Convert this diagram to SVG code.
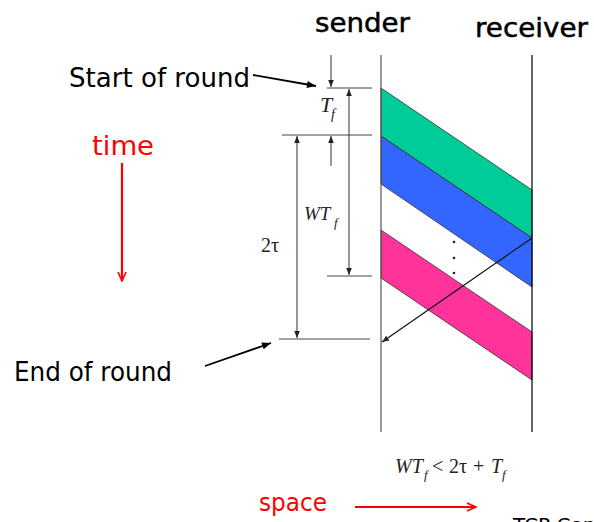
<svg xmlns="http://www.w3.org/2000/svg" width="594" height="522" viewBox="0 0 594 522">
<style>
.hand{font-family:"DejaVu Sans","Liberation Sans",sans-serif;fill:#000}
.heavy{stroke:#000;stroke-width:0.5}
.red{fill:#ff0000}
.math{font-family:"Liberation Serif","Times New Roman",serif;fill:#222}
.it{font-style:italic}
.tick{stroke:#444;stroke-width:1;fill:none}
.dim{stroke:#333;stroke-width:1;fill:none}
.band{stroke:#333;stroke-width:0.8}
</style>
<defs>
<marker id="ah" viewBox="0 0 10 10" refX="10" refY="5" markerWidth="7" markerHeight="7" markerUnits="userSpaceOnUse" orient="auto-start-reverse">
<path d="M0,1 L10,5 L0,9 z" fill="#222"/>
</marker>
<marker id="ahb" viewBox="0 0 10 10" refX="10" refY="5" markerWidth="10" markerHeight="9" markerUnits="userSpaceOnUse" orient="auto">
<path d="M0,1 L10,5 L0,9 z" fill="#000"/>
</marker>
<marker id="ahr" viewBox="0 0 10 10" refX="9" refY="5" markerWidth="10" markerHeight="10" markerUnits="userSpaceOnUse" orient="auto">
<path d="M0,1 L9,5 L0,9" fill="none" stroke="#ff0000" stroke-width="1.6"/>
</marker>
</defs>

<g id="bands">
<polygon class="band" points="381,88 532,190 532,238 381,136" fill="#00cc99"/>
<polygon class="band" points="381,136 532,238 532,287 381,184" fill="#3366ff"/>
<polygon class="band" points="381,230 532,332 532,380 381,278" fill="#ff3399"/>
</g>

<g id="sender">
<line x1="381" y1="55" x2="381" y2="432" stroke="#555" stroke-width="1.2"/>
<text class="hand heavy" x="315" y="32" font-size="26" textLength="95" lengthAdjust="spacingAndGlyphs">sender</text>
</g>
<g id="receiver">
<line x1="532" y1="55" x2="532" y2="432" stroke="#000" stroke-width="1.2"/>
<text class="hand heavy" x="475" y="37" font-size="26" textLength="113" lengthAdjust="spacingAndGlyphs">receiver</text>
</g>

<g id="dots" fill="#222">
<circle cx="454" cy="242" r="1.3"/>
<circle cx="454" cy="258" r="1.3"/>
<circle cx="454" cy="273" r="1.3"/>
</g>

<g id="ticks">
<line class="tick" x1="327" y1="88" x2="372" y2="88"/>
<line class="tick" x1="282" y1="135" x2="372" y2="135"/>
<line class="tick" x1="327" y1="276" x2="372" y2="276"/>
<line class="tick" x1="279" y1="339" x2="370" y2="339"/>
</g>

<g id="connectors">
<line class="dim" x1="331" y1="55" x2="331" y2="87" marker-end="url(#ah)"/>
<line class="dim" x1="331" y1="166" x2="331" y2="136" marker-end="url(#ah)"/>
<line class="dim" x1="349" y1="89" x2="349" y2="275" marker-start="url(#ah)" marker-end="url(#ah)"/>
<line class="dim" x1="297" y1="136" x2="297" y2="338" marker-start="url(#ah)" marker-end="url(#ah)"/>
<line x1="532" y1="238" x2="382" y2="342" stroke="#111" stroke-width="1.2" marker-end="url(#ah)"/>
<line x1="253" y1="75" x2="316" y2="86" stroke="#000" stroke-width="1.8" marker-end="url(#ahb)"/>
<line x1="205" y1="366" x2="271" y2="343" stroke="#000" stroke-width="1.8" marker-end="url(#ahb)"/>
<line x1="122" y1="163" x2="122" y2="281" stroke="#ff0000" stroke-width="2.2" marker-end="url(#ahr)"/>
<line x1="355" y1="507" x2="476" y2="507" stroke="#ff0000" stroke-width="2" marker-end="url(#ahr)"/>
</g>

<g id="labels">
<text class="hand" x="69" y="87" font-size="26" textLength="181" lengthAdjust="spacingAndGlyphs">Start of round</text>
<text class="hand" x="14" y="381" font-size="26" textLength="158" lengthAdjust="spacingAndGlyphs">End of round</text>
<text class="hand red" x="92" y="155" font-size="26" textLength="62" lengthAdjust="spacingAndGlyphs">time</text>
<text class="hand red" x="259" y="511" font-size="25" textLength="68" lengthAdjust="spacingAndGlyphs">space</text>
<text class="hand" x="513" y="532" font-size="20">TCP Cong</text>
</g>

<g id="math">
<text class="math it" x="320" y="112" font-size="22">T</text>
<text class="math it" x="331" y="119" font-size="14">f</text>
<text class="math it" x="304" y="220" font-size="19">WT</text>
<text class="math it" x="334" y="227" font-size="13">f</text>
<text class="math" x="261" y="252" font-size="20">2τ</text>
<text class="math it" x="395" y="473" font-size="20">WT</text>
<text class="math it" x="424" y="479" font-size="13">f</text>
<text class="math" x="432" y="473" font-size="20">&lt;</text>
<text class="math" x="449" y="473" font-size="20">2τ</text>
<text class="math" x="473" y="473" font-size="20">+</text>
<text class="math it" x="491" y="473" font-size="20">T</text>
<text class="math it" x="502" y="479" font-size="13">f</text>
</g>
</svg>
